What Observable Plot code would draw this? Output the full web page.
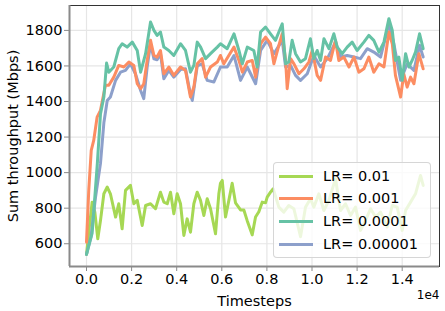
<!DOCTYPE html>
<html><head><meta charset="utf-8">
<script src="https://cdn.jsdelivr.net/npm/d3@7"></script>
<script src="https://cdn.jsdelivr.net/npm/@observablehq/plot@0.6"></script>
<style>
body{margin:0;background:#fff;}
#wrap{position:relative;width:445px;height:311px;font-family:"DejaVu Sans",sans-serif;}
#legend{position:absolute;left:273px;top:162px;width:158px;height:96px;box-sizing:border-box;border:1px solid rgba(204,204,204,0.8);border-radius:4px;background:rgba(255,255,255,0.8);}
.row{position:absolute;left:0;height:20px;width:100%;}
.sw{position:absolute;left:5px;top:9px;width:34px;height:3px;}
.lb{position:absolute;left:49px;top:0;font-size:14.5px;line-height:20px;color:#000;white-space:nowrap;}
</style>
</head><body>
<div id="wrap"><div id="legend"></div></div>
<script>
const seriesNames = ["LR= 0.01", "LR= 0.001", "LR= 0.0001", "LR= 0.00001"];
const seriesColors = ["#a6d854", "#fc8d62", "#66c2a5", "#8da0cb"];
const xTicks = [0, 2000, 4000, 6000, 8000, 10000, 12000, 14000];
const yTicks = [600, 800, 1000, 1200, 1400, 1600, 1800];
const xLabel = "Timesteps";
const yLabel = "Sum throughput (Mbps)";
const xExp = "1e4";

// [timestep, throughput]
const lr01 = [[0,540],[110,675],[250,834],[370,778],[500,628],[620,731],[770,881],[920,919],[1060,881],[1290,750],[1430,825],[1580,684],[1730,900],[1950,928],[2100,825],[2250,844],[2470,703],[2620,815],[2840,825],[3060,797],[3280,890],[3430,834],[3580,825],[3726,890],[3873,769],[4021,881],[4169,825],[4317,647],[4464,740],[4612,665],[4760,825],[4908,890],[5056,844],[5204,759],[5352,853],[5500,797],[5721,656],[5869,881],[5940,940],[6020,956],[6165,750],[6313,844],[6460,940],[6608,830],[6830,790],[6978,790],[7126,730],[7348,650],[7496,750],[7643,780],[7791,834],[7939,830],[8013,862],[8160,890],[8280,909],[8530,806],[8750,778],[8970,815],[9195,797],[9491,640],[9713,806],[9934,853],[10082,806],[10304,881],[10526,787],[10747,844],[11043,966],[11265,787],[11487,825],[11709,759],[11930,806],[12152,675],[12374,731],[12596,797],[12818,750],[13039,778],[13335,694],[13557,815],[13779,806],[14000,675],[14148,787],[14370,834],[14591,881],[14813,984],[14931,928]];
const lr001 = [[0,609],[100,900],[210,1125],[320,1181],[470,1312],[620,1350],[840,1491],[990,1491],[1210,1537],[1430,1603],[1660,1594],[1880,1622],[2100,1603],[2250,1500],[2400,1472],[2540,1500],[2690,1631],[2840,1744],[2990,1659],[3130,1650],[3280,1687],[3430,1556],[3650,1594],[3870,1547],[4170,1594],[4390,1575],[4610,1425],[4760,1481],[4910,1612],[5130,1641],[5280,1537],[5500,1594],[5800,1622],[5940,1659],[6090,1612],[6310,1659],[6540,1706],[6760,1631],[6910,1565],[7130,1622],[7350,1631],[7500,1537],[7720,1725],[7940,1762],[8160,1725],[8310,1612],[8530,1716],[8680,1781],[8830,1631],[8900,1472],[9050,1641],[9200,1612],[9420,1556],[9640,1584],[9860,1622],[10010,1687],[10230,1547],[10380,1519],[10600,1650],[10820,1631],[11040,1744],[11190,1631],[11410,1650],[11640,1594],[11860,1650],[12080,1565],[12300,1584],[12520,1650],[12740,1565],[12970,1612],[13190,1594],[13410,1791],[13560,1725],[13700,1547],[13930,1425],[14070,1556],[14220,1481],[14370,1537],[14520,1500],[14740,1669],[14930,1584]];
const lr0001 = [[0,540],[250,660],[480,1050],[620,1330],[770,1425],[890,1616],[990,1565],[1210,1594],[1430,1697],[1580,1725],[1800,1706],[2030,1734],[2250,1687],[2400,1565],[2620,1669],[2840,1847],[2990,1800],[3130,1772],[3280,1791],[3430,1706],[3650,1687],[3870,1659],[4170,1725],[4390,1687],[4610,1565],[4760,1603],[4910,1734],[5060,1706],[5280,1641],[5500,1669],[5800,1706],[5940,1725],[6240,1697],[6540,1781],[6760,1687],[6910,1612],[7130,1706],[7420,1687],[7570,1594],[7720,1791],[7940,1819],[8160,1781],[8380,1744],[8530,1791],[8680,1837],[8830,1612],[8970,1622],[9120,1744],[9270,1669],[9490,1622],[9710,1641],[9930,1753],[10080,1641],[10230,1687],[10380,1631],[10530,1753],[10750,1697],[10970,1781],[11120,1706],[11340,1669],[11560,1706],[11780,1734],[12000,1687],[12300,1734],[12520,1772],[12740,1744],[12970,1678],[13190,1734],[13410,1866],[13560,1800],[13700,1631],[13850,1650],[14000,1519],[14150,1669],[14300,1594],[14440,1631],[14590,1678],[14770,1781],[14930,1697]];
const lr00001 = [[0,540],[200,640],[400,862],[620,1052],[770,1280],[920,1406],[1060,1425],[1290,1519],[1510,1565],[1730,1575],[1950,1612],[2170,1556],[2400,1462],[2540,1416],[2690,1594],[2840,1725],[2990,1640],[3130,1635],[3280,1670],[3430,1528],[3650,1575],[3870,1537],[4170,1580],[4390,1584],[4610,1440],[4690,1406],[4910,1600],[5130,1612],[5350,1519],[5650,1510],[5940,1594],[6240,1594],[6540,1659],[6830,1519],[7130,1594],[7500,1500],[7720,1687],[8010,1744],[8310,1669],[8680,1744],[8830,1594],[9050,1603],[9270,1547],[9490,1519],[9790,1556],[10080,1659],[10380,1594],[10680,1641],[11040,1734],[11270,1650],[11560,1659],[11860,1650],[12150,1641],[12450,1697],[12740,1678],[13040,1650],[13410,1837],[13630,1725],[13930,1519],[14220,1612],[14520,1575],[14770,1716],[14930,1650]];

const seriesData = [lr01, lr001, lr0001, lr00001];
const drawOrder = [0, 3, 1, 2];
const rows = drawOrder.flatMap(i => seriesData[i].map(([t, v]) => ({t, v, s: seriesNames[i]})));

const xDomain = [-754, 15654];
const yDomain = [472, 1940];
const font = "DejaVu Sans";

const chart = Plot.plot({
  width: 445, height: 311,
  marginLeft: 69, marginRight: 6, marginTop: 5, marginBottom: 45,
  style: {fontFamily: font, background: "white", color: "black"},
  x: {domain: xDomain},
  y: {domain: yDomain},
  color: {domain: seriesNames, range: seriesColors},
  marks: [
    Plot.gridX(xTicks, {stroke: "#e6e6e6", strokeOpacity: 1, strokeWidth: 1.2}),
    Plot.gridY(yTicks, {stroke: "#e6e6e6", strokeOpacity: 1, strokeWidth: 1.2}),
    Plot.line(rows, {x: "t", y: "v", z: "s", stroke: "s", strokeWidth: 3, strokeLinejoin: "round"}),
    Plot.frame({stroke: "#333", strokeWidth: 1}),
    Plot.ruleX([xDomain[0]], {stroke: "#8a8a8a", strokeWidth: 2}),
    Plot.ruleY([yDomain[0]], {stroke: "#8a8a8a", strokeWidth: 2}),
    Plot.axisX(xTicks, {tickFormat: d => (d / 1e4).toFixed(1), tickSize: 5, tickPadding: 2, fontSize: 14.5, stroke: "#8a8a8a", fill: "black", label: null}),
    Plot.axisY(yTicks, {tickFormat: d => String(d), tickSize: 5, tickPadding: 2, fontSize: 14.5, stroke: "#8a8a8a", fill: "black", label: null}),
    Plot.text([yLabel], {frameAnchor: "left", dx: -56, rotate: -90, fontSize: 14.5, fill: "black", textAnchor: "middle", lineAnchor: "middle"}),
    Plot.text([xLabel], {frameAnchor: "bottom", dy: 35, fontSize: 14.5, fill: "black", lineAnchor: "middle"}),
    Plot.text([xExp], {frameAnchor: "bottom-right", dy: 29, textAnchor: "end", fontSize: 12, fill: "black", lineAnchor: "middle"})
  ]
});
const wrap = document.getElementById("wrap");
wrap.insertBefore(chart, wrap.firstChild);

const legend = document.getElementById("legend");
const rowTops = [3, 25, 48, 71];
seriesNames.forEach((n, i) => {
  const r = document.createElement("div");
  r.className = "row";
  r.style.top = rowTops[i] + "px";
  r.innerHTML = `<div class="sw" style="background:${seriesColors[i]}"></div><div class="lb">${n}</div>`;
  legend.appendChild(r);
});
</script>
</body></html>
